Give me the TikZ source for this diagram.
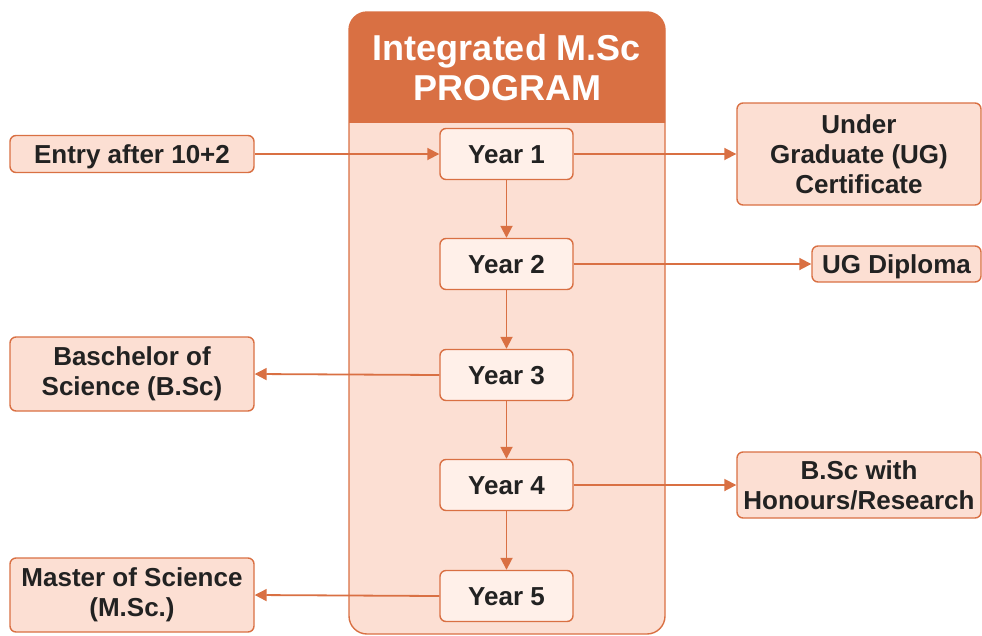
\documentclass[tikz,border=0pt]{standalone}
\usepackage{fontspec}
\setmainfont{Liberation Sans}
\usetikzlibrary{arrows.meta,positioning}
\definecolor{org}{HTML}{D97043}
\definecolor{peach}{HTML}{FCDFD3}
\definecolor{yearfill}{HTML}{FFF0E9}
\definecolor{txt}{HTML}{222222}
\begin{document}
\begin{tikzpicture}[x=1pt,y=-1pt,
  outbox/.style={draw=org,line width=1.4pt,fill=peach,rounded corners=6pt,
    font=\bfseries\fontsize{26}{30}\selectfont,text=txt,align=center,inner sep=0pt},
  oneline/.style={text height=20pt,text depth=1.4pt},
  yearbox/.style={draw=org,line width=1.4pt,fill=yearfill,rounded corners=6pt,
    minimum width=133pt,minimum height=51pt,font=\bfseries\fontsize{26}{30}\selectfont,
    text=txt,inner sep=0pt,oneline},
  conn/.style={draw=org,line width=1.8pt,-{Triangle[length=12pt,width=12pt]}}]
\useasboundingbox (0,0) rectangle (982,635);
% container
\path[draw=org,line width=1.4pt,fill=peach,rounded corners=18pt] (349,634) -- (349,12) -- (665,12) -- (665,634) -- cycle;
\begin{scope}
\clip (340,0) rectangle (680,122);
\path[fill=org,rounded corners=18pt] (349,634) -- (349,12) -- (665,12) -- (665,634) -- cycle;
\end{scope}
\node[font=\bfseries\fontsize{36}{40}\selectfont,text=white,align=center] (title) at (507,68) {Integrated M.Sc\\PROGRAM};
% years
\node[yearbox] (y1) at (506.5,154) {Year 1};
\node[yearbox] (y2) at (506.5,264) {Year 2};
\node[yearbox] (y3) at (506.5,375) {Year 3};
\node[yearbox] (y4) at (506.5,485) {Year 4};
\node[yearbox] (y5) at (506.5,596) {Year 5};
% outer boxes
\node[outbox,oneline,minimum width=244pt,minimum height=37pt] (entry) at (132,154) {Entry after 10+2};
\node[outbox,minimum width=244pt,minimum height=102pt] (ugc) at (859,154) {Under\\Graduate (UG)\\Certificate};
\node[outbox,oneline,minimum width=169pt,minimum height=36pt] (ugd) at (896.5,264) {UG Diploma};
\node[outbox,minimum width=244pt,minimum height=74pt] (bsc) at (132,374) {Baschelor of\\Science (B.Sc)};
\node[outbox,minimum width=244pt,minimum height=66pt] (hon) at (859,485) {B.Sc with\\Honours/Research};
\node[outbox,minimum width=244pt,minimum height=74pt] (msc) at (132,595) {Master of Science\\(M.Sc.)};
% connectors
\draw[conn] (entry.east) -- (y1.west);
\draw[conn] (y1.east) -- (ugc.west);
\draw[conn] (y2.east) -- (ugd.west);
\draw[conn] (y3.west) -- (bsc.east);
\draw[conn] (y4.east) -- (hon.west);
\draw[conn] (y5.west) -- (msc.east);
\draw[conn] (y1.south) -- (y2.north);
\draw[conn] (y2.south) -- (y3.north);
\draw[conn] (y3.south) -- (y4.north);
\draw[conn] (y4.south) -- (y5.north);
\end{tikzpicture}
\end{document}
